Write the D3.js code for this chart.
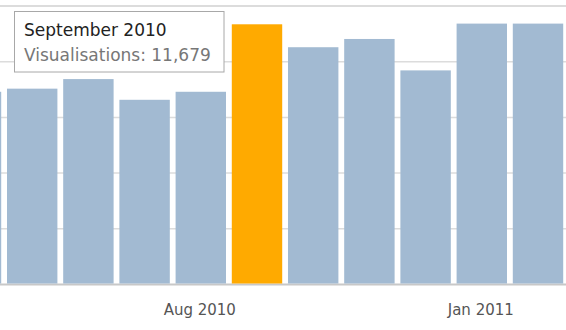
<!DOCTYPE html>
<html>
<head>
<meta charset="utf-8">
<script src="https://cdn.jsdelivr.net/npm/d3@7"></script>
<style>
  body { margin: 0; background: #fff; }
  svg { display: block; font-family: "DejaVu Sans", Verdana, sans-serif; }
</style>
</head>
<body>
<svg width="566" height="330"></svg>
<script>
var months = ["Apr 2010", "May 2010", "Jun 2010", "Jul 2010", "Aug 2010", "Sep 2010",
              "Oct 2010", "Nov 2010", "Dec 2010", "Jan 2011", "Feb 2011"];
var visualisations = [8650, 8790, 9220, 8290, 8650, 11679, 10650, 11020, 9610, 11710, 11710];
var xTickLabels = ["Aug 2010", "Jan 2011"];
var yTicks = [0, 2500, 5000, 7500, 10000, 12500];
var highlighted = "Sep 2010";
var tooltipLines = ["September 2010", "Visualisations: 11,679"];

var svg = d3.select("svg");
var width = 566;
var baseY = 284.5;

var x = d3.scaleBand()
    .domain(months)
    .range([-52.1, 566.1])
    .paddingInner(0.103)
    .paddingOuter(0.0515);

var y = d3.scaleLinear()
    .domain([0, 12500])
    .range([baseY, 6]);

// gridlines
svg.append("g")
    .selectAll("line")
    .data(yTicks)
    .join("line")
    .attr("x1", 0)
    .attr("x2", width)
    .attr("y1", function (d) { return y(d); })
    .attr("y2", function (d) { return y(d); })
    .attr("stroke", function (d) { return d === 0 ? "#c8c8c8" : "#dcdcdc"; })
    .attr("stroke-width", function (d) { return d === 0 || d === 12500 ? 2 : 1.5; });

// bars
svg.append("g")
    .selectAll("rect")
    .data(months)
    .join("rect")
    .attr("x", function (d) { return x(d); })
    .attr("width", x.bandwidth())
    .attr("y", function (d, i) { return y(visualisations[i]); })
    .attr("height", function (d, i) { return baseY - 1 - y(visualisations[i]); })
    .attr("fill", function (d) { return d === highlighted ? "#ffaa00" : "#a2bad2"; });

// x axis labels
svg.append("g")
    .selectAll("text")
    .data(xTickLabels)
    .join("text")
    .attr("x", function (d) { return x(d) + x.bandwidth() / 2 - 1; })
    .attr("y", 315)
    .attr("text-anchor", "middle")
    .attr("font-size", 15)
    .attr("fill", "#555")
    .text(function (d) { return d; });

// tooltip
var tip = svg.append("g");
tip.append("rect")
    .attr("x", 14.5)
    .attr("y", 11.5)
    .attr("width", 209.5)
    .attr("height", 60.5)
    .attr("fill", "#fff")
    .attr("stroke", "#a8a8a8");
tip.append("text")
    .attr("x", 24)
    .attr("y", 36)
    .attr("font-size", 17)
    .attr("fill", "#222")
    .text(tooltipLines[0]);
tip.append("text")
    .attr("x", 24)
    .attr("y", 61)
    .attr("font-size", 17)
    .attr("fill", "#777")
    .text(tooltipLines[1]);
</script>
</body>
</html>
